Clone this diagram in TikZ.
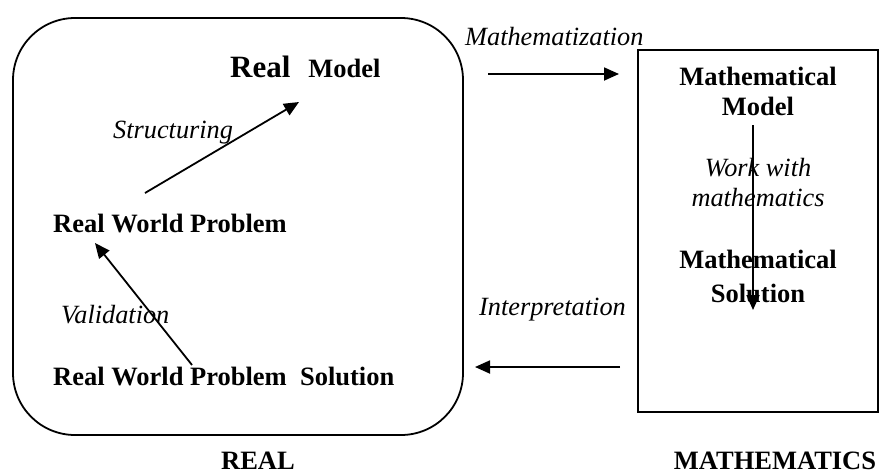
\documentclass[tikz,border=0pt]{standalone}
\usepackage{fontspec}
\setmainfont{Liberation Serif}
\usetikzlibrary{arrows.meta, positioning}

\begin{document}
\begin{tikzpicture}[
  x=1pt, y=-1pt,
  txt/.style={inner sep=0pt, font=\fontsize{26.5}{30}\selectfont\bfseries},
  lbl/.style={inner sep=0pt, font=\fontsize{26.3}{30}\selectfont\itshape},
  flow/.style={-{Triangle[length=15pt,width=13pt]}, line width=1.8pt},
  frame/.style={draw=black, line width=1.8pt}
]
\useasboundingbox (0,0) rectangle (880,474);
% the two worlds
\draw[frame, rounded corners=62pt] (13,18) rectangle (463,435);
\draw[frame] (638,50) rectangle (878,412);
% real world side
\node[txt, anchor=base west] (rm) at (230,77) {{\fontsize{31}{34}\selectfont Real}\hspace{18pt}Model};
\node[txt, anchor=base west] (rwp) at (53,232) {Real World Problem};
\node[txt, anchor=base west] (rws) at (53,385) {Real World Problem\ \ Solution};
\node[txt, anchor=base] (real) at (258,469) {REAL};
\node[lbl, anchor=base west] (lstr) at (113,138) {Structuring};
\node[lbl, anchor=base west] (lval) at (61,323) {Validation};
% mathematics side
\node[txt, align=center] (mm) at (758,91) {Mathematical\\Model};
\node[txt, align=center] (ms) at (758,276) {Mathematical\\[4pt]Solution};
\node[txt, anchor=base] (maths) at (775,469) {MATHEMATICS};
\node[lbl, align=center] (lwork) at (758,183) {Work with\\mathematics};
\node[lbl, anchor=base west] (lmat) at (465,45) {Mathematization};
\node[lbl, anchor=base west] (lint) at (479,315) {Interpretation};
% arrow ends
\coordinate (str0) at (145,193);
\coordinate (str1) at (299,102);
\coordinate (val0) at (192,365);
\coordinate (val1) at (95,243);
\coordinate (mat0) at (488,74);
\coordinate (mat1) at (619,74);
\coordinate (int0) at (620,367);
\coordinate (int1) at (475,367);
\coordinate (work0) at (753,125);
\coordinate (work1) at (753,310);
\draw[flow] (str0) -- (str1);
\draw[flow] (val0) -- (val1);
\draw[flow] (mat0) -- (mat1);
\draw[flow] (int0) -- (int1);
\draw[flow] (work0) -- (work1);
\end{tikzpicture}
\end{document}
